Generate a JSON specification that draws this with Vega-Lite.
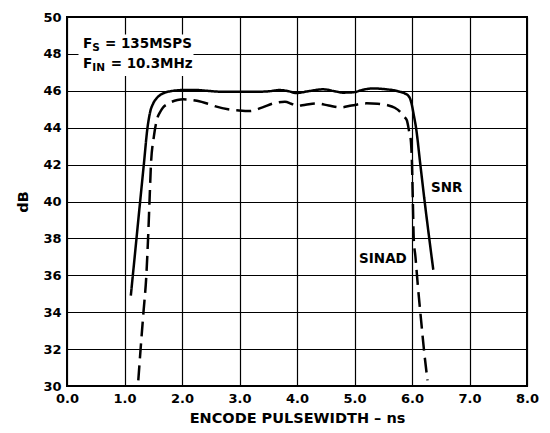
{
  "$schema": "https://vega.github.io/schema/vega-lite/v6.json",
  "autosize": "none",
  "width": 460,
  "height": 369,
  "padding": {"left": 67, "top": 17, "right": 23, "bottom": 47},
  "background": "white",
  "config": {
    "view": {"stroke": "black", "strokeWidth": 2},
    "font": "DejaVu Sans",
    "axis": {
      "grid": true, "gridColor": "black", "gridOpacity": 1, "gridWidth": 1.2,
      "domain": false, "ticks": false, "labelFlush": false, "labelOverlap": false,
      "labelFont": "DejaVu Sans", "labelFontWeight": "bold", "labelFontSize": 13, "labelColor": "black",
      "titleFont": "DejaVu Sans", "titleFontWeight": "bold", "titleFontSize": 14.5, "titleColor": "black"
    }
  },
  "datasets": {
    "curves": [
      {"s":"SNR","x":1.11,"y":34.9},{"s":"SNR","x":1.177,"y":37},{"s":"SNR","x":1.272,"y":40},{"s":"SNR","x":1.336,"y":42},{"s":"SNR","x":1.40,"y":44},{"s":"SNR","x":1.45,"y":44.9},{"s":"SNR","x":1.50,"y":45.32},{"s":"SNR","x":1.56,"y":45.6},{"s":"SNR","x":1.62,"y":45.77},{"s":"SNR","x":1.70,"y":45.9},{"s":"SNR","x":1.79,"y":45.97},{"s":"SNR","x":1.9,"y":46.02},{"s":"SNR","x":2.0,"y":46.04},{"s":"SNR","x":2.26,"y":46.04},{"s":"SNR","x":2.43,"y":46.0},{"s":"SNR","x":2.7,"y":45.95},{"s":"SNR","x":3.0,"y":45.95},{"s":"SNR","x":3.3,"y":45.95},{"s":"SNR","x":3.5,"y":45.97},{"s":"SNR","x":3.70,"y":46.04},{"s":"SNR","x":3.85,"y":45.98},{"s":"SNR","x":3.99,"y":45.88},{"s":"SNR","x":4.2,"y":45.98},{"s":"SNR","x":4.46,"y":46.08},{"s":"SNR","x":4.65,"y":45.98},{"s":"SNR","x":4.80,"y":45.9},{"s":"SNR","x":4.98,"y":45.92},{"s":"SNR","x":5.15,"y":46.06},{"s":"SNR","x":5.33,"y":46.13},{"s":"SNR","x":5.55,"y":46.08},{"s":"SNR","x":5.7,"y":46.02},{"s":"SNR","x":5.79,"y":45.95},{"s":"SNR","x":5.88,"y":45.85},{"s":"SNR","x":5.94,"y":45.72},{"s":"SNR","x":5.97,"y":45.55},{"s":"SNR","x":6.0,"y":45.2},{"s":"SNR","x":6.03,"y":44.7},{"s":"SNR","x":6.07,"y":44},{"s":"SNR","x":6.145,"y":42},{"s":"SNR","x":6.22,"y":40},{"s":"SNR","x":6.30,"y":38},{"s":"SNR","x":6.37,"y":36.3},
      {"s":"SINAD","x":1.24,"y":30.3},{"s":"SINAD","x":1.28,"y":32},{"s":"SINAD","x":1.33,"y":34},{"s":"SINAD","x":1.38,"y":36},{"s":"SINAD","x":1.41,"y":38},{"s":"SINAD","x":1.435,"y":40},{"s":"SINAD","x":1.46,"y":42},{"s":"SINAD","x":1.51,"y":43.5},{"s":"SINAD","x":1.56,"y":44.4},{"s":"SINAD","x":1.62,"y":44.85},{"s":"SINAD","x":1.67,"y":45.1},{"s":"SINAD","x":1.74,"y":45.27},{"s":"SINAD","x":1.82,"y":45.4},{"s":"SINAD","x":1.92,"y":45.5},{"s":"SINAD","x":2.02,"y":45.54},{"s":"SINAD","x":2.26,"y":45.46},{"s":"SINAD","x":2.45,"y":45.3},{"s":"SINAD","x":2.60,"y":45.14},{"s":"SINAD","x":2.80,"y":45.0},{"s":"SINAD","x":2.95,"y":44.95},{"s":"SINAD","x":3.18,"y":44.9},{"s":"SINAD","x":3.4,"y":45.1},{"s":"SINAD","x":3.59,"y":45.32},{"s":"SINAD","x":3.79,"y":45.41},{"s":"SINAD","x":3.9,"y":45.3},{"s":"SINAD","x":3.99,"y":45.18},{"s":"SINAD","x":4.15,"y":45.25},{"s":"SINAD","x":4.34,"y":45.32},{"s":"SINAD","x":4.55,"y":45.2},{"s":"SINAD","x":4.75,"y":45.1},{"s":"SINAD","x":4.95,"y":45.2},{"s":"SINAD","x":5.21,"y":45.32},{"s":"SINAD","x":5.4,"y":45.3},{"s":"SINAD","x":5.56,"y":45.23},{"s":"SINAD","x":5.70,"y":45.08},{"s":"SINAD","x":5.79,"y":44.87},{"s":"SINAD","x":5.86,"y":44.6},{"s":"SINAD","x":5.91,"y":44.4},{"s":"SINAD","x":5.95,"y":43.8},{"s":"SINAD","x":5.98,"y":43.3},{"s":"SINAD","x":6.0,"y":42},{"s":"SINAD","x":6.015,"y":40},{"s":"SINAD","x":6.03,"y":38},{"s":"SINAD","x":6.06,"y":37},{"s":"SINAD","x":6.1,"y":35.5},{"s":"SINAD","x":6.16,"y":33.5},{"s":"SINAD","x":6.21,"y":31.9},{"s":"SINAD","x":6.27,"y":30.3}
    ],
    "box": [{"x":0.2,"x2":2.2,"y":46.8,"y2":49.05}],
    "bigtext": [
      {"t":"F","x":0.28,"y":48.3},
      {"t":"= 135MSPS","x":0.66,"y":48.3},
      {"t":"F","x":0.28,"y":47.22},
      {"t":"= 10.3MHz","x":0.76,"y":47.22},
      {"t":"SNR","x":6.33,"y":40.51},
      {"t":"SINAD","x":5.08,"y":36.67}
    ],
    "subtext": [
      {"t":"S","x":0.44,"y":48.17},
      {"t":"IN","x":0.44,"y":47.06}
    ]
  },
  "encoding": {
    "x": {"field": "x", "type": "quantitative", "scale": {"domain": [0, 8], "nice": false},
          "axis": {"values": [0,1,2,3,4,5,6,7,8], "format": ".1f", "title": "ENCODE PULSEWIDTH – ns", "labelPadding": 6, "titlePadding": 6}},
    "y": {"field": "y", "type": "quantitative", "scale": {"domain": [30, 50], "nice": false},
          "axis": {"values": [30,32,34,36,38,40,42,44,46,48,50], "title": "dB", "labelPadding": 6, "titlePadding": 12}}
  },
  "layer": [
    {
      "data": {"name": "box"},
      "mark": {"type": "rect", "fill": "white"},
      "encoding": {
        "x2": {"field": "x2"},
        "y2": {"field": "y2"}
      }
    },
    {
      "data": {"name": "curves"},
      "mark": {"type": "line", "color": "black", "strokeWidth": 2.5, "interpolate": "monotone", "clip": true},
      "encoding": {
        "detail": {"field": "s"},
        "strokeDash": {"field": "s", "type": "nominal", "scale": {"domain": ["SNR", "SINAD"], "range": [[1, 0], [15, 7]]}, "legend": null}
      }
    },
    {
      "data": {"name": "bigtext"},
      "mark": {"type": "text", "align": "left", "baseline": "alphabetic", "font": "DejaVu Sans", "fontWeight": "bold", "fontSize": 13.5, "color": "black"},
      "encoding": {
        "text": {"field": "t"}
      }
    },
    {
      "data": {"name": "subtext"},
      "mark": {"type": "text", "align": "left", "baseline": "alphabetic", "font": "DejaVu Sans", "fontWeight": "bold", "fontSize": 10.5, "color": "black"},
      "encoding": {
        "text": {"field": "t"}
      }
    }
  ]
}
